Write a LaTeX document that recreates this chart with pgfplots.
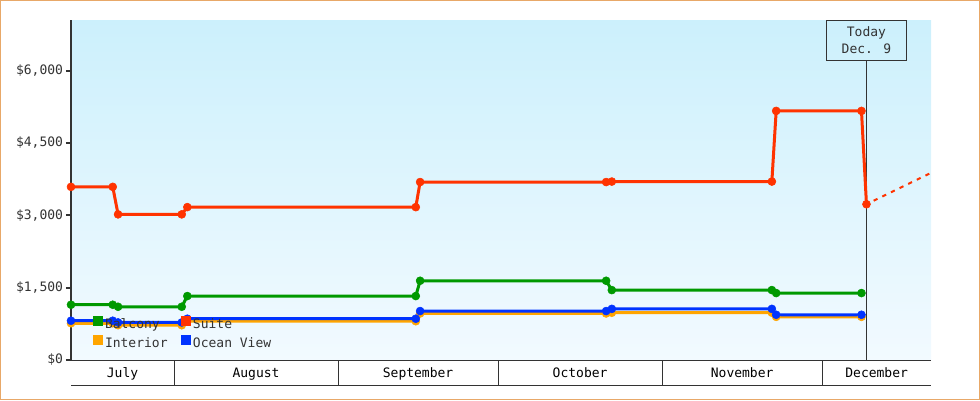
\documentclass[border=0pt]{standalone}
\usepackage{fontspec}
\setmainfont{DejaVu Sans Mono}
\usepackage{pgfplots}
\pgfplotsset{compat=1.18}
\definecolor{suite}{HTML}{FF3300}
\definecolor{balcony}{HTML}{009900}
\definecolor{interior}{HTML}{FFA500}
\definecolor{ocean}{HTML}{0033FF}
\definecolor{axiscol}{HTML}{333333}
\definecolor{bgtop}{HTML}{CCF0FC}
\definecolor{bgbot}{HTML}{F2FAFF}
\definecolor{framecol}{HTML}{E8A868}
\newcommand{\lbl}{\fontsize{9.75}{12.75}\selectfont}

\begin{document}
\begin{tikzpicture}
\useasboundingbox (0,0) rectangle (735pt,300pt);
\draw[framecol, line width=0.75pt] (0.375pt,0.375pt) rectangle (734.625pt,299.625pt);
\begin{axis}[
  at={(53.25pt,30pt)}, anchor=south west,
  scale only axis, width=645pt, height=255pt,
  xmin=11.6, xmax=173.5, ymin=0, ymax=7050,
  clip=false,
  axis background/.style={shade, top color=bgtop, bottom color=bgbot},
  separate axis lines,
  axis x line*=bottom, axis y line*=left,
  x axis line style={draw=axiscol, line width=0.75pt, -},
  y axis line style={draw=axiscol, line width=1.5pt, -},
  tick align=outside,
  xtick={31,62,92,123,153}, xticklabels={},
  xtick style={draw=axiscol, line width=0.75pt, /pgfplots/major tick length=18.75pt},
  ytick={0,1500,3000,4500,6000},
  yticklabels={\$0,{\$1,500},{\$3,000},{\$4,500},{\$6,000}},
  ytick style={draw=axiscol, line width=1.5pt, /pgfplots/major tick length=3.75pt},
  yticklabel style={font=\lbl, text=axiscol, inner sep=1.5pt},
  legend columns=2,
  legend cell align=left,
  legend style={at={(0.0256,0.129)}, anchor=north west, draw=none, fill=none,
    inner sep=0pt, outer sep=0pt, font=\lbl, text=axiscol, row sep=2.5pt,
    nodes={inner sep=1.5pt},
    /tikz/every even column/.append style={column sep=8.5pt}},
  legend image code/.code={\fill[#1, draw=none] (0pt,-1.5pt) rectangle (7.5pt,6pt);},
  every axis plot/.append style={line width=2.25pt, mark=*, mark size=3pt, mark options={line width=0.4pt}},
]
% today marker
\node[draw=axiscol, line width=0.75pt, anchor=north, minimum width=60pt, minimum height=30pt,
  align=center, font=\lbl, text=axiscol, inner sep=0pt] (today) at (axis cs:161.35,7050) {Today\\Dec. 9};
\draw[axiscol, line width=0.75pt] (today.south) -- (axis cs:161.35,0);
% month band
\draw[axiscol, line width=0.75pt] ([yshift=-18.75pt]rel axis cs:0,0) -- ([yshift=-18.75pt]rel axis cs:1,0);
\node[anchor=base, font=\lbl, inner sep=0pt] at ([yshift=-12.75pt]axis cs:21.3,0) {July};
\node[anchor=base, font=\lbl, inner sep=0pt] at ([yshift=-12.75pt]axis cs:46.44,0) {August};
\node[anchor=base, font=\lbl, inner sep=0pt] at ([yshift=-12.75pt]axis cs:76.94,0) {September};
\node[anchor=base, font=\lbl, inner sep=0pt] at ([yshift=-12.75pt]axis cs:107.44,0) {October};
\node[anchor=base, font=\lbl, inner sep=0pt] at ([yshift=-12.75pt]axis cs:137.95,0) {November};
\node[anchor=base, font=\lbl, inner sep=0pt] at ([yshift=-12.75pt]axis cs:163.27,0) {December};

\addplot[balcony] coordinates {
  (11.6,1146) (19.46,1146) (20.46,1104) (32.45,1104) (33.5,1326) (76.51,1326)
  (77.32,1643) (112.34,1643) (113.41,1450) (143.54,1450) (144.35,1388) (160.41,1388)};
\addlegendentry{Balcony}
\addplot[suite] coordinates {
  (11.6,3590) (19.46,3590) (20.46,3020) (32.45,3020) (33.5,3170) (76.51,3170)
  (77.32,3690) (112.34,3690) (113.41,3700) (143.54,3700) (144.35,5165) (160.41,5165) (161.35,3230)};
\addlegendentry{Suite}
\addplot[interior] coordinates {
  (11.6,762) (19.46,762) (20.46,721) (32.45,721) (33.5,804) (76.51,804)
  (77.32,965) (112.34,965) (113.41,980) (143.54,980) (144.35,895) (160.41,895)};
\addlegendentry{Interior}
\addplot[ocean] coordinates {
  (11.6,814) (19.46,814) (20.46,779) (32.45,779) (33.5,856) (76.51,856)
  (77.32,1015) (112.34,1015) (113.41,1060) (143.54,1060) (144.35,938) (160.41,938)};
\addlegendentry{Ocean View}
\addplot[suite, line width=1.5pt, no marks, dash pattern=on 3.2pt off 4pt, dash phase=-6pt, forget plot]
  coordinates {(161.35,3230) (173.5,3880)};
\end{axis}
\end{tikzpicture}
\end{document}
